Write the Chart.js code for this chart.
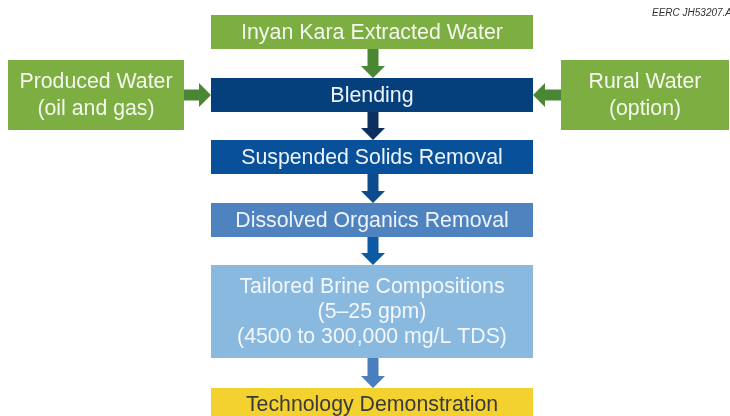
<!DOCTYPE html>
<html>
<head>
<meta charset="utf-8">
<script src="https://cdn.jsdelivr.net/npm/chart.js@4"></script>
<style>
  html, body { margin: 0; padding: 0; background: #ffffff; }
  #wrap { width: 730px; height: 416px; }
</style>
</head>
<body>
<div id="wrap"><canvas id="flow" width="730" height="416"></canvas></div>
<script>
// Flow boxes (diagram units: x 0-730, y 0-416 from top)
const nodeLabels = [
  ["Inyan Kara Extracted Water"],
  ["Produced Water", "(oil and gas)"],
  ["Rural Water", "(option)"],
  ["Blending"],
  ["Suspended Solids Removal"],
  ["Dissolved Organics Removal"],
  ["Tailored Brine Compositions", "(5\u201325 gpm)", "(4500 to 300,000 mg/L TDS)"],
  ["Technology Demonstration"]
];
const nodeLeft   = [211, 8, 561, 211, 211, 211, 211, 211];
const nodeRight  = [533, 184, 729, 533, 533, 533, 533, 533];
const nodeTop    = [15, 60, 60, 78, 140, 203, 265, 388];
const nodeBottom = [49, 130, 130, 112, 174, 237, 358, 421];

// links: [from, to]
const links = [[0, 3], [1, 3], [2, 3], [3, 4], [4, 5], [5, 6], [6, 7]];

const boxColors = ["#7dae42", "#7dae42", "#7dae42", "#053f7c", "#08509a", "#4f83bf", "#8ab9df", "#f3d22f"];
const textColors = ["#f4f8ee", "#f4f8ee", "#f4f8ee", "#eef3f9", "#eef3f9", "#eef3f9", "#f3f7fb", "#3a3a3a"];
const fontSizes = [21.4, 21.3, 21.3, 21.4, 21.3, 21.3, 21.3, 21.3];
const lineHeights = [24, 27, 27, 24, 24, 24, 25, 24];
const arrowColors = ["#4a8735", "#4a8735", "#4a8735", "#0c2f5e", "#0d4b8c", "#0b5aa3", "#4a7fbe"];

const FONT = '"Liberation Sans", Arial, Helvetica, sans-serif';

const flowPlugin = {
  id: "flowPlugin",
  afterDatasetsDraw(chart) {
    const ctx = chart.ctx;
    const xs = chart.scales.x;
    const ys = chart.scales.y;
    const px = v => xs.getPixelForValue(v);
    const py = v => ys.getPixelForValue(v);

    // arrows first
    links.forEach(([a, b], i) => {
      ctx.fillStyle = arrowColors[i];
      const shaft = 11, head = 24, headLen = 12;
      ctx.beginPath();
      if (nodeRight[a] <= nodeLeft[b]) {
        // left -> right
        const cy = py((nodeTop[b] + nodeBottom[b]) / 2);
        const x0 = px(nodeRight[a]), x1 = px(nodeLeft[b]);
        ctx.moveTo(x0, cy - shaft / 2);
        ctx.lineTo(x1 - headLen, cy - shaft / 2);
        ctx.lineTo(x1 - headLen, cy - head / 2);
        ctx.lineTo(x1, cy);
        ctx.lineTo(x1 - headLen, cy + head / 2);
        ctx.lineTo(x1 - headLen, cy + shaft / 2);
        ctx.lineTo(x0, cy + shaft / 2);
      } else if (nodeLeft[a] >= nodeRight[b]) {
        // right -> left
        const cy = py((nodeTop[b] + nodeBottom[b]) / 2);
        const x0 = px(nodeLeft[a]), x1 = px(nodeRight[b]);
        ctx.moveTo(x0, cy - shaft / 2);
        ctx.lineTo(x1 + headLen, cy - shaft / 2);
        ctx.lineTo(x1 + headLen, cy - head / 2);
        ctx.lineTo(x1, cy);
        ctx.lineTo(x1 + headLen, cy + head / 2);
        ctx.lineTo(x1 + headLen, cy + shaft / 2);
        ctx.lineTo(x0, cy + shaft / 2);
      } else {
        // top -> bottom
        const cx = px((nodeLeft[b] + nodeRight[b]) / 2) + 1;
        const y0 = py(nodeBottom[a]), y1 = py(nodeTop[b]);
        ctx.moveTo(cx - shaft / 2, y0);
        ctx.lineTo(cx - shaft / 2, y1 - headLen);
        ctx.lineTo(cx - head / 2, y1 - headLen);
        ctx.lineTo(cx, y1);
        ctx.lineTo(cx + head / 2, y1 - headLen);
        ctx.lineTo(cx + shaft / 2, y1 - headLen);
        ctx.lineTo(cx + shaft / 2, y0);
      }
      ctx.closePath();
      ctx.fill();
    });

    // boxes and labels
    nodeLabels.forEach((lines, i) => {
      const x0 = px(nodeLeft[i]), x1 = px(nodeRight[i]);
      const y0 = py(nodeTop[i]), y1 = py(nodeBottom[i]);
      ctx.fillStyle = boxColors[i];
      ctx.fillRect(x0, y0, x1 - x0, y1 - y0);

      ctx.fillStyle = textColors[i];
      ctx.font = fontSizes[i] + "px " + FONT;
      ctx.textAlign = "center";
      ctx.textBaseline = "middle";
      const cx = (x0 + x1) / 2;
      const cy = i === 7 ? py(404) : (y0 + y1) / 2;
      const lh = lineHeights[i];
      lines.forEach((t, k) => {
        ctx.fillText(t, cx, cy + (k - (lines.length - 1) / 2) * lh + 1);
      });
    });

    // figure id
    ctx.fillStyle = "#333333";
    ctx.font = "italic 10px " + FONT;
    ctx.textAlign = "left";
    ctx.textBaseline = "middle";
    ctx.fillText("EERC JH53207.A", px(652), py(13));
  }
};

new Chart(document.getElementById("flow").getContext("2d"), {
  type: "scatter",
  data: {
    datasets: [
      {
        label: "steps",
        data: nodeLabels.map((_, i) => ({
          x: (nodeLeft[i] + nodeRight[i]) / 2,
          y: (nodeTop[i] + nodeBottom[i]) / 2
        })),
        pointRadius: 0,
        showLine: false
      }
    ]
  },
  options: {
    responsive: false,
    animation: false,
    layout: { padding: 0 },
    plugins: {
      legend: { display: false },
      tooltip: { enabled: false }
    },
    scales: {
      x: { type: "linear", min: 0, max: 730, display: false },
      y: { type: "linear", min: 0, max: 416, reverse: true, display: false }
    }
  },
  plugins: [flowPlugin]
});
</script>
</body>
</html>
